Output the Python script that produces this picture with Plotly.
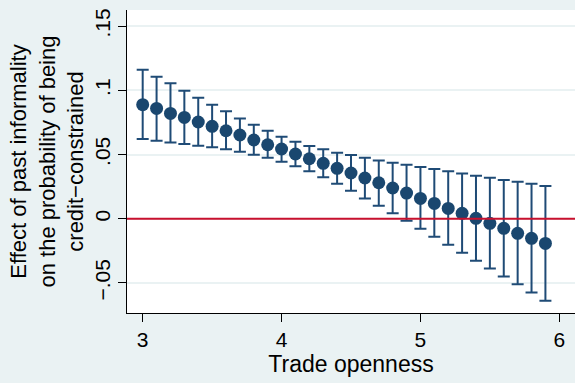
import plotly.graph_objects as go

trade_openness = [3.0, 3.1, 3.2, 3.3, 3.4, 3.5, 3.6, 3.7, 3.8, 3.9,
                  4.0, 4.1, 4.2, 4.3, 4.4, 4.5, 4.6, 4.7, 4.8, 4.9,
                  5.0, 5.1, 5.2, 5.3, 5.4, 5.5, 5.6, 5.7, 5.8, 5.9]
effect = [0.0888, 0.0859, 0.0820, 0.0789, 0.0753, 0.0719, 0.0685, 0.0652, 0.0613, 0.0576,
          0.0543, 0.0504, 0.0467, 0.0431, 0.0392, 0.0356, 0.0317, 0.0280, 0.0239, 0.0200,
          0.0158, 0.0119, 0.0080, 0.0042, 0.0003, -0.0036, -0.0075, -0.0114, -0.0153, -0.0192]
upper = [0.1160, 0.1106, 0.1054, 0.0997, 0.0942, 0.0888, 0.0836, 0.0781, 0.0732, 0.0685,
         0.0639, 0.0600, 0.0566, 0.0540, 0.0514, 0.0496, 0.0475, 0.0454, 0.0436, 0.0421,
         0.0402, 0.0387, 0.0369, 0.0353, 0.0335, 0.0319, 0.0301, 0.0288, 0.0273, 0.0254]
lower = [0.0620, 0.0607, 0.0594, 0.0582, 0.0569, 0.0556, 0.0540, 0.0522, 0.0498, 0.0475,
         0.0444, 0.0408, 0.0369, 0.0322, 0.0272, 0.0218, 0.0158, 0.0101, 0.0042, -0.0016,
         -0.0078, -0.0140, -0.0202, -0.0265, -0.0327, -0.0387, -0.0449, -0.0511, -0.0574, -0.0639]

y_tickvals = [-0.05, 0, 0.05, 0.1, 0.15]
y_ticktext = ["\u2212.05", "0", ".05", ".1", ".15"]
x_tickvals = [3, 4, 5, 6]

err_plus = [u - e for u, e in zip(upper, effect)]
err_minus = [e - l for e, l in zip(effect, lower)]

FONT = "Liberation Sans, Arial, Helvetica, sans-serif"
BG = "#EAF2F3"

fig = go.Figure()
fig.add_trace(go.Scatter(
    x=trade_openness, y=effect, mode="markers",
    marker=dict(color="#1A476F", size=13),
    error_y=dict(type="data", symmetric=False, array=err_plus, arrayminus=err_minus,
                 color="#1F4B76", thickness=2, width=6),
    showlegend=False,
))

fig.add_shape(type="line", xref="paper", x0=0, x1=1, yref="y", y0=0, y1=0,
              line=dict(color="#C8102E", width=2))

fig.update_layout(
    width=575, height=383,
    margin=dict(l=127, r=0, t=10, b=70, autoexpand=False),
    paper_bgcolor=BG,
    plot_bgcolor="white",
    font=dict(family=FONT, color="black", size=20),
    xaxis=dict(
        range=[2.887, 6.113], tickvals=x_tickvals, automargin=False,
        showline=True, linecolor="black", linewidth=1.2,
        ticks="outside", ticklen=8, tickcolor="black",
        showgrid=False, zeroline=False,
        tickfont=dict(size=21),
        title=dict(text="Trade openness", font=dict(size=23), standoff=0),
    ),
    yaxis=dict(
        range=[-0.0734, 0.1625], tickvals=y_tickvals, ticktext=y_ticktext,
        tickangle=-90, automargin=False,
        showline=True, linecolor="black", linewidth=1.2,
        ticks="outside", ticklen=8, tickcolor="black",
        showgrid=True, gridcolor=BG, gridwidth=1.5, zeroline=False,
        tickfont=dict(size=21),
        title=dict(text="Effect of past informality<br>on the probability of being<br>credit\u2212constrained",
                   font=dict(size=22), standoff=0),
    ),
)

fig.write_html(
    "out.html",
    config={"displayModeBar": False},
    post_script="document.body.style.margin='0';document.body.style.overflow='hidden';"
                "document.body.style.background='" + BG + "';",
)
